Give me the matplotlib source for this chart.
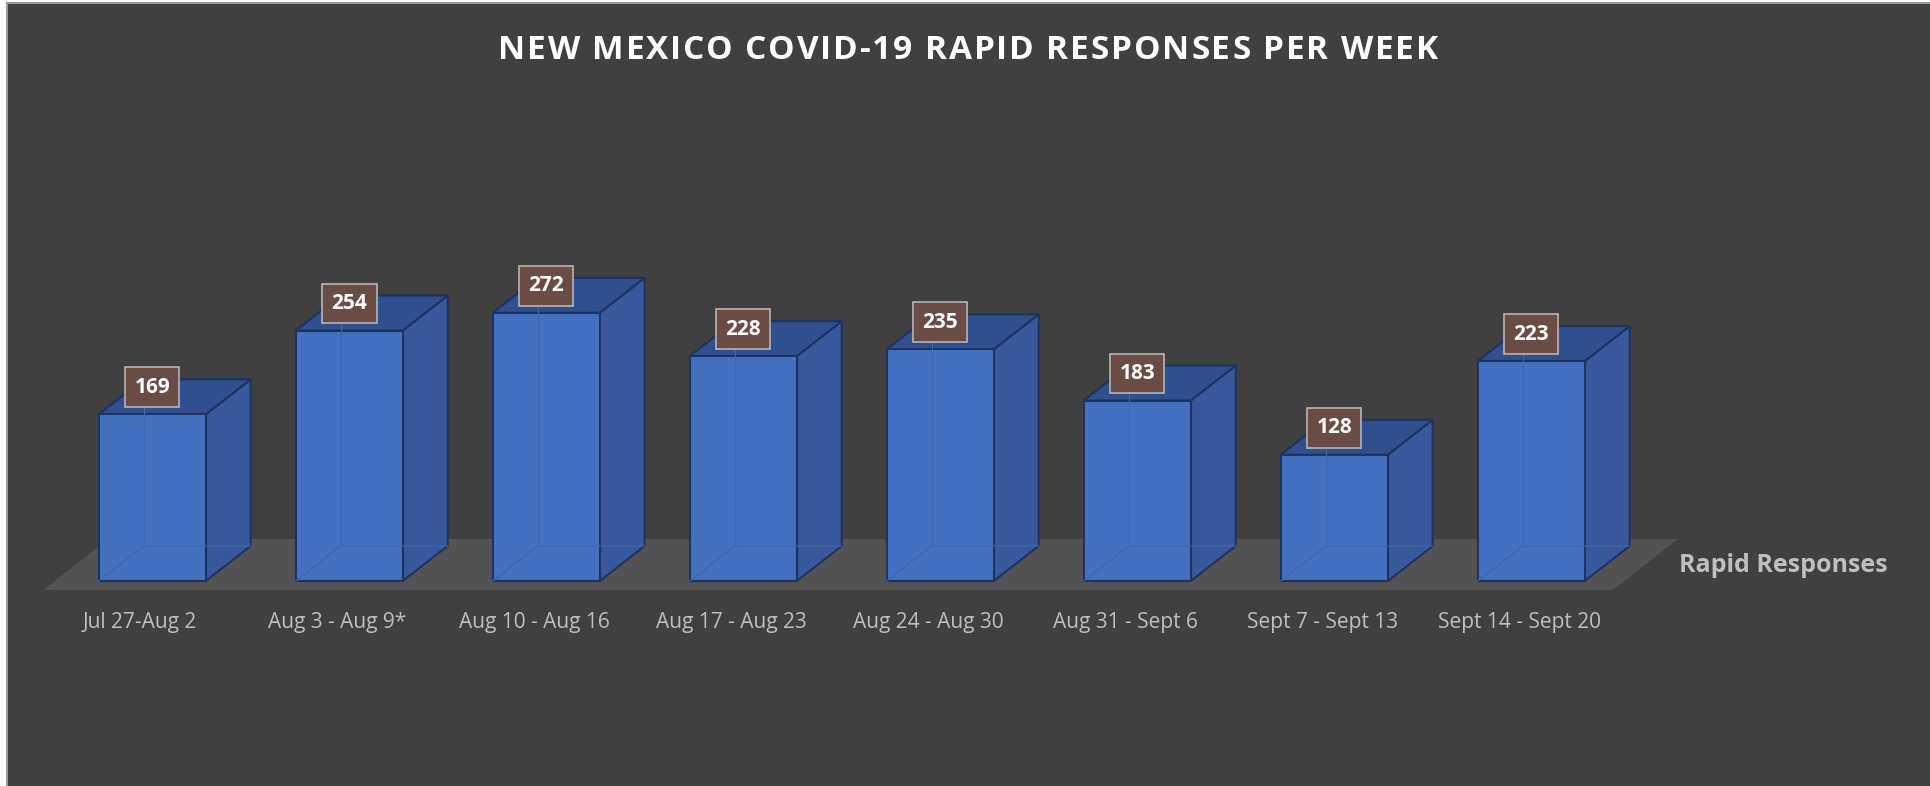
import numpy as np
import matplotlib.pyplot as plt
from matplotlib.patches import Polygon, Rectangle
from matplotlib.font_manager import FontProperties, findfont, get_font

plt.rcParams['font.family'] = ['Open Sans', 'DejaVu Sans']

# data
weeks = ['Jul 27-Aug 2', 'Aug 3 - Aug 9*', 'Aug 10 - Aug 16', 'Aug 17 - Aug 23',
         'Aug 24 - Aug 30', 'Aug 31 - Sept 6', 'Sept 7 - Sept 13', 'Sept 14 - Sept 20']
responses = [169, 254, 272, 228, 235, 183, 128, 223]
series_name = 'Rapid Responses'
title = 'NEW MEXICO COVID-19 RAPID RESPONSES PER WEEK'

# styling
bg = '#404040'
front_col = '#4470c0'
side_col = '#37599b'
top_col = '#2f4f8e'
edge_col = '#1d3461'
floor_col = '#525252'

half_w = 0.2716   # half bar width in category units
dx, dy = 0.2284, 35.5   # fake 3d depth

W, H = 1931, 786
fig = plt.figure(figsize=(W / 100, H / 100), dpi=100, facecolor='white')

ax = fig.add_axes([0, 0, 1, 1])
ax.set_facecolor('none')
ax.set_xlim(-0.7726, 9.0294)
ax.set_ylim(-207.9, 589.2)
ax.axis('off')

# chart area background with thin border on left/top
ax.add_patch(Rectangle((7 / W, -0.01), 1.0, (783 / H) + 0.01,
                       transform=fig.transFigure, facecolor=bg,
                       edgecolor='#9a9a9a', linewidth=1.5, zorder=0))

# floor
fl, fr = -0.554, 7.415
fy0, fy1 = -9.1, 42.6
fdx = 0.33
ax.add_patch(Polygon([(fl, fy0), (fr, fy0), (fr + fdx, fy1), (fl + fdx, fy1)],
                     closed=True, facecolor=floor_col, edgecolor='none', zorder=1))

x = np.arange(len(weeks))
for i, v in zip(x, responses):
    l, r = i - half_w, i + half_w
    # right side
    ax.add_patch(Polygon([(r, 0), (r + dx, dy), (r + dx, v + dy), (r, v)],
                         facecolor=side_col, edgecolor=edge_col, lw=1.5, zorder=2))
    # top
    ax.add_patch(Polygon([(l, v), (r, v), (r + dx, v + dy), (l + dx, v + dy)],
                         facecolor=top_col, edgecolor=edge_col, lw=1.5, zorder=2))
    # front
    ax.add_patch(Polygon([(l, 0), (r, 0), (r, v), (l, v)],
                         facecolor=front_col, edgecolor=edge_col, lw=1.5, zorder=3))
    # faint hidden back edges
    ax.plot([l, l + dx, r + dx], [0, dy, dy], color='#3f66ae', lw=0.8, zorder=4)
    ax.plot([l + dx, l + dx], [dy, v + dy], color='#3f66ae', lw=0.8, zorder=4)
    # value label
    ax.text(i, v + 27.4, str(v), ha='center', va='center', color='white',
            fontsize=15, fontweight='bold', zorder=6,
            bbox=dict(boxstyle='square,pad=0.45', facecolor='#6b4c44',
                      edgecolor='#b5b5b5', linewidth=1.2))
    # category label
    ax.text(i - 0.061, -42.1, weeks[i], ha='center', va='center',
            color='#bfbfbf', fontsize=15)

ax.text(7.751, 16.2, series_name, ha='left', va='center', color='#bfbfbf',
        fontsize=18, fontweight='bold')

# title with letter spacing (drawn char by char)
title_size = 24
target_w = 940
fp = FontProperties(family='Open Sans', weight='bold', size=title_size)
font = get_font(findfont(fp))
font.set_size(title_size, 100)
adv = [font.load_char(ord(c)).linearHoriAdvance / 65536 for c in title]
track = (target_w - sum(adv)) / (len(title) - 1)
px = 968 - target_w / 2
for c, a in zip(title, adv):
    fig.text(px / W, (H - 59.3) / H, c, ha='left', va='baseline',
             color='white', fontproperties=fp)
    px += a + track

fig.savefig('out.png', dpi=100, facecolor=fig.get_facecolor())
